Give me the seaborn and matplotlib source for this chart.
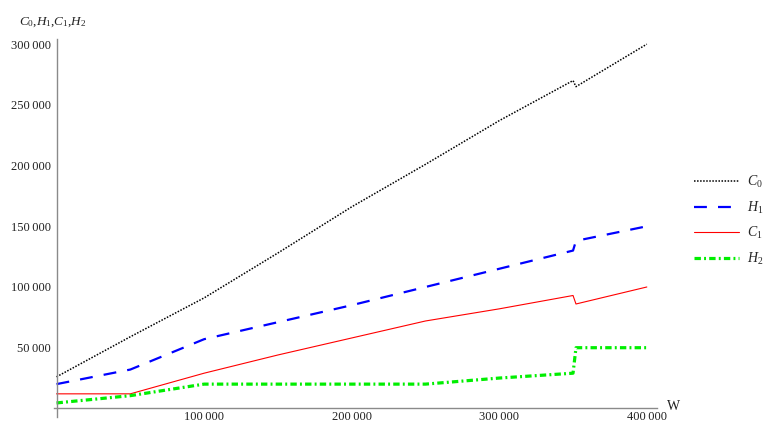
import numpy as np
import pandas as pd
import matplotlib
matplotlib.use("Agg")
import matplotlib.pyplot as plt
import matplotlib.ticker as mticker
import seaborn as sns

# Cost curves against W (kinks at 50k, 100k, 250k, 300k; jump at 350k)
w = [0, 50000, 100000, 150000, 200000, 250000, 300000, 350000, 352000, 400000]
c0 = [26000, 59000, 91000, 128000, 166000, 201000, 237000, 270000, 265000, 300000]
h1 = [20000, 32000, 57000, 71000, 85000, 100000, 115000, 130000, 138000, 150000]
c1 = [12000, 12000, 29000, 44000, 58000, 72000, 82000, 93000, 86000, 100000]
h2 = [4500, 10500, 20000, 20000, 20000, 20000, 25000, 29000, 50000, 50000]

names = [r"$C_0$", r"$H_1$", r"$C_1$", r"$H_2$"]
series = [c0, h1, c1, h2]

df = pd.concat(
    [pd.DataFrame({"W": w, "value": s, "curve": n}) for n, s in zip(names, series)],
    ignore_index=True,
)

sns.set_style("white")
plt.rcParams["font.family"] = ["Liberation Serif", "DejaVu Serif"]
plt.rcParams["mathtext.fontset"] = "custom"
plt.rcParams["mathtext.rm"] = "Liberation Serif"
plt.rcParams["mathtext.it"] = "Liberation Serif:italic"

fig = plt.figure(figsize=(7.67, 4.23), dpi=100)
ax = fig.add_axes([0.0708, 0.0144, 0.7854, 0.8927])

styles = {
    r"$C_0$": dict(color="black", lw=1.1, ls=(0, (1.0, 1.0))),
    r"$H_1$": dict(color="#0000ff", lw=1.6, ls=(0, (5.8, 5.0))),
    r"$C_1$": dict(color="#ff0000", lw=0.8, ls="-"),
    r"$H_2$": dict(color="#00ee00", lw=2.3, ls=(0, (2.0, 1.0, 0.6, 1.0))),
}

for n in names:
    st = styles[n]
    sns.lineplot(
        data=df[df["curve"] == n], x="W", y="value", ax=ax,
        estimator=None, sort=False, color=st["color"], linewidth=st["lw"],
        linestyle=st["ls"], label=n, legend=False,
    )

ax.set_xlim(-1500, 406700)
ax.set_ylim(-7000, 304000)

for side in ("top", "right"):
    ax.spines[side].set_visible(False)
ax.spines["left"].set_position(("data", 0))
ax.spines["bottom"].set_position(("data", 0))
for side in ("left", "bottom"):
    ax.spines[side].set_color("#8a8a8a")
    ax.spines[side].set_linewidth(1.0)

ax.xaxis.set_major_locator(mticker.MultipleLocator(100000))
ax.xaxis.set_minor_locator(mticker.MultipleLocator(20000))
ax.yaxis.set_major_locator(mticker.MultipleLocator(50000))
ax.yaxis.set_minor_locator(mticker.MultipleLocator(10000))


def thousands(v, pos):
    if abs(v) < 1:
        return ""
    s = f"{int(round(v)):,}"
    return s.replace(",", "\u2009")


ax.xaxis.set_major_formatter(mticker.FuncFormatter(thousands))
ax.yaxis.set_major_formatter(mticker.FuncFormatter(thousands))
ax.tick_params(which="major", direction="in", length=4, width=0.8, color="#555555",
               labelsize=9, labelcolor="#222222")
ax.tick_params(which="minor", direction="in", length=2, width=0.8, color="#555555")
ax.tick_params(axis="y", which="major", pad=4)
ax.tick_params(axis="x", which="major", pad=2)
ax.set_xlabel("")
ax.set_ylabel("")

fig.text(19 / 767, 1 - 22 / 423, r"$C_0$,$H_1$,$C_1$,$H_2$", fontsize=9.5,
         ha="left", va="center", color="#222222")
fig.text(667 / 767, 1 - 406 / 423, "W", fontsize=10, ha="left", va="center",
         color="#222222")

handles, labels = ax.get_legend_handles_labels()
fig.legend(handles, labels, loc="upper left", bbox_to_anchor=(694 / 767, 1 - 174 / 423),
           frameon=False, fontsize=10, handlelength=3.25, handletextpad=0.6,
           labelspacing=0.68, borderpad=0, borderaxespad=0)

fig.savefig("out.png", dpi=100)
